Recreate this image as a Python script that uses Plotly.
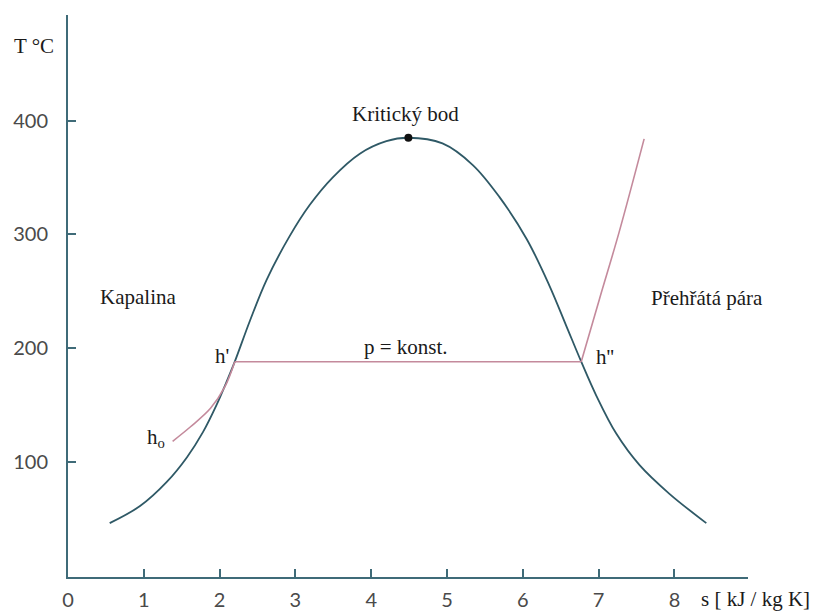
import plotly.graph_objects as go

# Saturation dome of water in the T-s diagram (s in kJ/kg K, T in °C)
dome_s = [0.55, 0.95, 1.30, 1.57, 1.78, 1.96, 2.09, 2.20, 2.40, 2.62, 2.92, 3.19,
          3.49, 3.85, 4.20, 4.49, 4.94, 5.34, 5.69, 6.05, 6.35, 6.57, 6.77, 6.97,
          7.23, 7.54, 7.93, 8.42]
dome_t = [46, 61, 82, 104, 126, 150, 170, 188, 224, 260, 298, 326,
          350, 371, 382, 385, 380, 361, 333, 296, 255, 220, 188, 158,
          125, 97, 72, 46]

# Isobar p = konst.: liquid heating, evaporation, superheating
liquid_s = [1.38, 1.62, 1.88, 2.07, 2.20]
liquid_t = [118, 131, 147, 166, 188]
evap_s = [2.20, 6.77]
evap_t = [188, 188]
vapour_s = [6.77, 7.01, 7.27, 7.60]
vapour_t = [188, 243, 302, 384]

critical_s = [4.49]
critical_t = [385]

x_ticks = [0, 1, 2, 3, 4, 5, 6, 7, 8]
y_ticks = [100, 200, 300, 400]

dome_color = "#2f5966"
isobar_color = "#c48a9c"
axis_color = "#3f6b78"
serif_family = "Liberation Serif, DejaVu Serif, serif"

fig = go.Figure()
fig.add_trace(go.Scatter(x=dome_s, y=dome_t, mode="lines", line_shape="spline",
                         line=dict(color=dome_color, width=1.8, smoothing=1.0),
                         hoverinfo="skip"))
fig.add_trace(go.Scatter(x=liquid_s, y=liquid_t, mode="lines", line_shape="spline",
                         line=dict(color=isobar_color, width=1.6), hoverinfo="skip"))
fig.add_trace(go.Scatter(x=evap_s, y=evap_t, mode="lines",
                         line=dict(color=isobar_color, width=1.6), hoverinfo="skip"))
fig.add_trace(go.Scatter(x=vapour_s, y=vapour_t, mode="lines", line_shape="spline",
                         line=dict(color=isobar_color, width=1.6), hoverinfo="skip"))
fig.add_trace(go.Scatter(x=critical_s, y=critical_t, mode="markers",
                         marker=dict(color="#111111", size=8), hoverinfo="skip"))


def label(x, y, text, size=21, xanchor="center", xref="x", yref="y"):
    fig.add_annotation(x=x, y=y, xref=xref, yref=yref, text=text, showarrow=False,
                       xanchor=xanchor, yanchor="middle",
                       font=dict(family=serif_family, size=size, color="#1a1a1a"))


label(4.45, 406, "Kritický bod")
label(0.92, 245, "Kapalina")
label(8.43, 244, "Přehřátá pára")
label(4.46, 201, "p = konst.")
label(2.03, 193, "h'")
label(7.08, 192, "h''")
label(1.16, 121, "h<sub>o</sub>")

# Axis captions beyond the axis ends
label(-0.05, 0.945, "T °C", xref="paper", yref="paper")
label(0.928, -0.04, "s [ kJ / kg K]", xanchor="left", xref="paper", yref="paper")

tick_font = dict(family="Lato", size=20, color="#4a4a4a")

fig.update_layout(
    width=828, height=614,
    margin=dict(l=68, r=80, t=15, b=37, autoexpand=False),
    paper_bgcolor="white", plot_bgcolor="white",
    showlegend=False,
    xaxis=dict(range=[0, 8.97], tickvals=x_ticks, ticks="inside", ticklen=8,
               tickcolor=axis_color, tickwidth=1.5, showline=True, linecolor=axis_color,
               linewidth=2, showgrid=False, zeroline=False, tickfont=tick_font,
               ticklabelstandoff=4, automargin=False, fixedrange=True),
    yaxis=dict(range=[-1.4, 493], tickvals=y_ticks, ticks="inside", ticklen=8,
               tickcolor=axis_color, tickwidth=1.5, showline=True, linecolor=axis_color,
               linewidth=2, showgrid=False, zeroline=False, tickfont=tick_font,
               ticklabelstandoff=14, automargin=False, fixedrange=True),
)

fig.write_html("out.html")
